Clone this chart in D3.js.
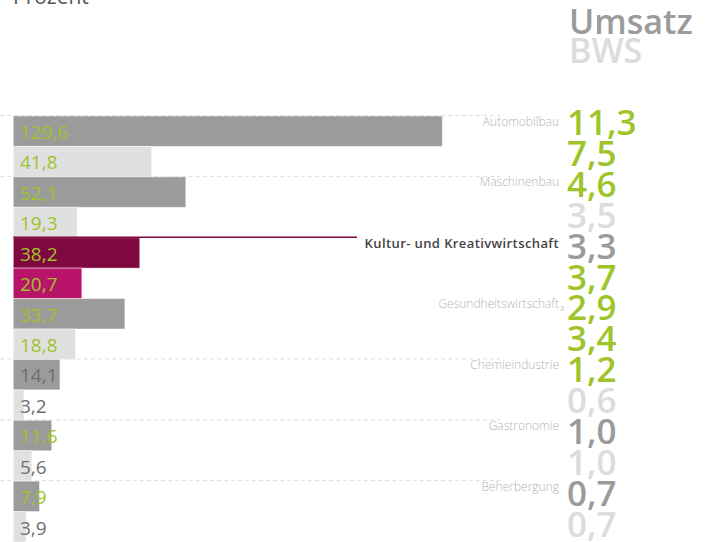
<!DOCTYPE html>
<html><head><meta charset="utf-8">
<script src="https://cdn.jsdelivr.net/npm/d3@7/dist/d3.min.js"></script>
<style>
html,body{margin:0;padding:0;background:#fff;overflow:hidden}
svg{display:block;font-family:"Open Sans",sans-serif}
</style></head>
<body><svg id="c" width="718" height="542"></svg>
<script>
// ---- data ----
const categories = ["Automobilbau","Maschinenbau","Kultur- und Kreativwirtschaft","Gesundheitswirtschaft","Chemieindustrie","Gastronomie","Beherbergung"];
const footnotes  = ["","","","3","","",""];
const umsatz      = [129.6, 52.1, 38.2, 33.7, 14.1, 11.6, 7.9];   // Mrd. Euro
const bws         = [41.8, 19.3, 20.7, 18.8, 3.2, 5.6, 3.9];
const umsatzShare = [11.3, 4.6, 3.3, 2.9, 1.2, 1.0, 0.7];         // Prozent
const bwsShare    = [7.5, 3.5, 3.7, 3.4, 0.6, 1.0, 0.7];
const umsatzValHi = [true, true, true, true, false, true, true];
const bwsValHi    = [true, true, true, true, false, false, false];
const umsatzShareHi = [true, true, false, true, true, false, false];
const bwsShareHi    = [true, false, true, true, false, false, false];
const focus = "Kultur- und Kreativwirtschaft";
const legend = ["Umsatz","BWS"];
const unitLabel = "Prozent";

// ---- build rows ----
const rows = [];
categories.forEach((c,i)=>{
  rows.push({cat:c, i, type:"U", key:c+"|U", val:umsatz[i], share:umsatzShare[i], valHi:umsatzValHi[i], shareHi:umsatzShareHi[i]});
  rows.push({cat:c, i, type:"B", key:c+"|B", val:bws[i], share:bwsShare[i], valHi:bwsValHi[i], shareHi:bwsShareHi[i]});
});

const GREEN="#9ec42a", GREY="#9a9b9a", LIGHT="#e0e0e0", DARKTXT="#6e6e6e";
const MAG="#800840", PINK="#b8146a";
const fmt = v => d3.format(".1f")(v).replace(".", ",");

const svg = d3.select("#c");
const x = d3.scaleLinear().domain([0, 129.6]).range([13.3, 442.3]);
const y = d3.scaleBand().domain(rows.map(r=>r.key)).range([116, 542]).padding(0);
const yNum = d3.scaleLinear().domain([0, rows.length-1]).range([135, 536.7]);

// title
svg.append("text").attr("x",13).attr("y",4).attr("font-size",21).attr("fill","#555").text(unitLabel);

// legend
svg.append("text").attr("x",569).attr("y",34).attr("font-size",34).attr("font-weight",600).attr("fill",GREY).text(legend[0]);
svg.append("text").attr("x",569).attr("y",63).attr("font-size",34).attr("font-weight",600).attr("fill","#dcdcdc").text(legend[1]);

// dashed guide lines
svg.append("g").selectAll("line").data(rows.filter(r=>r.type==="U" && r.cat!==focus && !footnotes[r.i]))
  .join("line")
  .attr("x1",0).attr("x2",500)
  .attr("y1",d=>y(d.key)-0.5).attr("y2",d=>y(d.key)-0.5)
  .attr("stroke","#dcdcdc").attr("stroke-width",1).attr("stroke-dasharray","4,3");

// bars
svg.append("g").selectAll("rect").data(rows).join("rect")
  .attr("x",x(0)).attr("y",d=>y(d.key))
  .attr("width",d=>x(d.val)-x(0)).attr("height",y.bandwidth())
  .attr("fill",d=> d.cat===focus ? (d.type==="U"?MAG:PINK) : (d.type==="U"?GREY:LIGHT))
  .attr("stroke","rgba(255,255,255,0.45)").attr("stroke-width",1);

// focus line
const fr = rows.find(r=>r.cat===focus && r.type==="U");
svg.append("line").attr("x1",x(0)).attr("x2",357)
  .attr("y1",y(fr.key)-0.5).attr("y2",y(fr.key)-0.5)
  .attr("stroke",MAG).attr("stroke-width",1.5);

// value labels inside bars
svg.append("g").selectAll("text").data(rows).join("text")
  .attr("x",20).attr("y",d=>y(d.key)+23)
  .attr("font-size",19)
  .attr("fill",d=>d.valHi?GREEN:DARKTXT)
  .text(d=>fmt(d.val));

// category labels
const cl = svg.append("g").selectAll("text").data(rows.filter(r=>r.type==="U")).join("text")
  .attr("x",559).attr("y",d=>y(d.key)+ (d.cat===focus?10.6:9.5))
  .attr("text-anchor","end")
  .attr("font-size",d=>d.cat===focus?13:12)
  .attr("font-weight",d=>d.cat===focus?600:300)
  .attr("letter-spacing",d=>d.cat===focus?0.4:0)
  .attr("fill",d=>d.cat===focus?"#444":"#b4b4b4")
  .text(d=>d.cat);
// footnote
svg.append("g").selectAll("text").data(rows.filter(r=>r.type==="U" && footnotes[r.i])).join("text")
  .attr("x",560).attr("y",d=>y(d.key)+12).attr("font-size",7).attr("fill","#b4b4b4")
  .text(d=>footnotes[d.i]);

// share numbers
svg.append("g").selectAll("text").data(rows).join("text")
  .attr("x",567).attr("y",(d,i)=>yNum(i))
  .attr("font-size",35).attr("font-weight",600)
  .attr("fill",d=> d.shareHi?GREEN : (d.type==="U"?GREY:"#dcdcdc"))
  .text(d=>fmt(d.share));
</script></body></html>
